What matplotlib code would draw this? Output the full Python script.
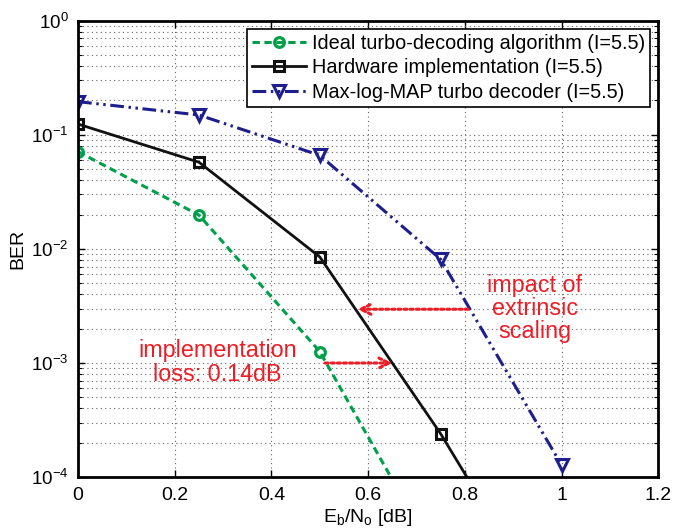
import matplotlib
matplotlib.use("Agg")
import matplotlib.pyplot as plt
from matplotlib.ticker import LogLocator, FixedLocator, NullFormatter

plt.rcParams['font.family'] = ['Liberation Sans', 'DejaVu Sans']
plt.rcParams['mathtext.fontset'] = 'custom'
plt.rcParams['mathtext.rm'] = 'Liberation Sans'
plt.rcParams['mathtext.it'] = 'Liberation Sans:italic'
plt.rcParams['mathtext.bf'] = 'Liberation Sans:bold'

# Data
ideal_ebno = [0, 0.25, 0.5, 0.75]
ideal_ber = [0.071, 0.0198, 0.00126, 1.7e-5]
hw_ebno = [0, 0.25, 0.5, 0.75, 1.0]
hw_ber = [0.124, 0.0575, 0.0085, 2.4e-4, 4.3e-6]
maxlog_ebno = [0, 0.25, 0.5, 0.75, 1.0]
maxlog_ber = [0.195, 0.149, 0.066, 0.0081, 1.28e-4]

labels = ["Ideal turbo-decoding algorithm (I=5.5)",
          "Hardware implementation (I=5.5)",
          "Max-log-MAP turbo decoder (I=5.5)"]
xticks = [0, 0.2, 0.4, 0.6, 0.8, 1.0, 1.2]
xtick_labels = ["0", "0.2", "0.4", "0.6", "0.8", "1", "1.2"]
yticks = [1e-4, 1e-3, 1e-2, 1e-1, 1e0]
ytick_labels = [r"$10^{-4}$", r"$10^{-3}$", r"$10^{-2}$", r"$10^{-1}$", r"$10^{0}$"]

# annotation anchors (data coords)
scal_arrow = ((0.807, 0.00296), (0.578, 0.00296))
impl_arrow = ((0.511, 0.00100), (0.650, 0.00100))

green = "#00A04A"
blue = "#1E1E8C"
red = "#EE1C25"

fig = plt.figure(figsize=(6.73, 5.29), dpi=100)
ax = fig.add_axes([0.116, 0.098, 0.862, 0.863])

ax.plot(ideal_ebno, ideal_ber, color=green, linestyle=(0, (2.4, 1.5)), linewidth=2.2,
        marker='o', markersize=7, markerfacecolor='none', markeredgewidth=2.3,
        label=labels[0])
ax.plot(hw_ebno, hw_ber, color='#111111', linestyle='-', linewidth=2.0,
        marker='s', markersize=6.5, markerfacecolor='none', markeredgewidth=2.2,
        label=labels[1])
ax.plot(maxlog_ebno, maxlog_ber, color=blue, linestyle=(0, (4.5, 1.5, 0.8, 1.5, 0.8, 1.5)),
        linewidth=2.2, marker='v', markersize=8, markerfacecolor='none',
        markeredgewidth=2.2, label=labels[2])

ax.set_yscale('log')
ax.set_xlim(0, 1.2)
ax.set_ylim(1e-4, 1)
ax.xaxis.set_major_locator(FixedLocator(xticks))
ax.set_xticklabels(xtick_labels)
ax.yaxis.set_major_locator(FixedLocator(yticks))
ax.set_yticklabels(ytick_labels)
ax.yaxis.set_minor_locator(LogLocator(base=10, subs=range(2, 10)))
ax.yaxis.set_minor_formatter(NullFormatter())

ax.tick_params(which='both', direction='in', top=True, right=True)
ax.tick_params(axis='x', labelsize=14)
ax.tick_params(axis='y', labelsize=13.5)
ax.tick_params(which='major', length=5, width=1.0, pad=7)
ax.tick_params(which='minor', length=3, width=0.8)
for s in ax.spines.values():
    s.set_linewidth(2.0)

ax.grid(True, which='major', color='#666666', linestyle=(0, (1, 3)), linewidth=0.8)
ax.grid(True, which='minor', axis='y', color='#666666', linestyle=(0, (1, 3)), linewidth=0.8)

ax.set_xlabel(r"$\mathrm{E_b/N_o}$ [dB]", fontsize=14, labelpad=2)
ax.set_ylabel("BER", fontsize=14, labelpad=3)

leg = ax.legend(loc='upper right', fontsize=14.3, frameon=True, fancybox=False,
                edgecolor='black', framealpha=1, borderpad=0.25, labelspacing=0.28,
                handlelength=2.7, handletextpad=0.3, borderaxespad=0.4)
leg.get_frame().set_linewidth(1.2)

ax.annotate("", xy=scal_arrow[1], xytext=scal_arrow[0],
            arrowprops=dict(arrowstyle='->', color=red, linestyle=(0, (1, 1)),
                            linewidth=2.2, mutation_scale=18, shrinkA=0, shrinkB=0))
ax.annotate("", xy=impl_arrow[1], xytext=impl_arrow[0],
            arrowprops=dict(arrowstyle='->', color=red, linestyle=(0, (1, 1)),
                            linewidth=2.2, mutation_scale=18, shrinkA=0, shrinkB=0))

ax.text(0.945, 0.00300, "impact of\nextrinsic\nscaling", color=red, fontsize=16.8,
        ha='center', va='center', linespacing=1.02)
ax.text(0.288, 0.00101, "implementation\nloss: 0.14dB", color=red, fontsize=16.8,
        ha='center', va='center', linespacing=1.02)

fig.savefig("out.png", dpi=100)
